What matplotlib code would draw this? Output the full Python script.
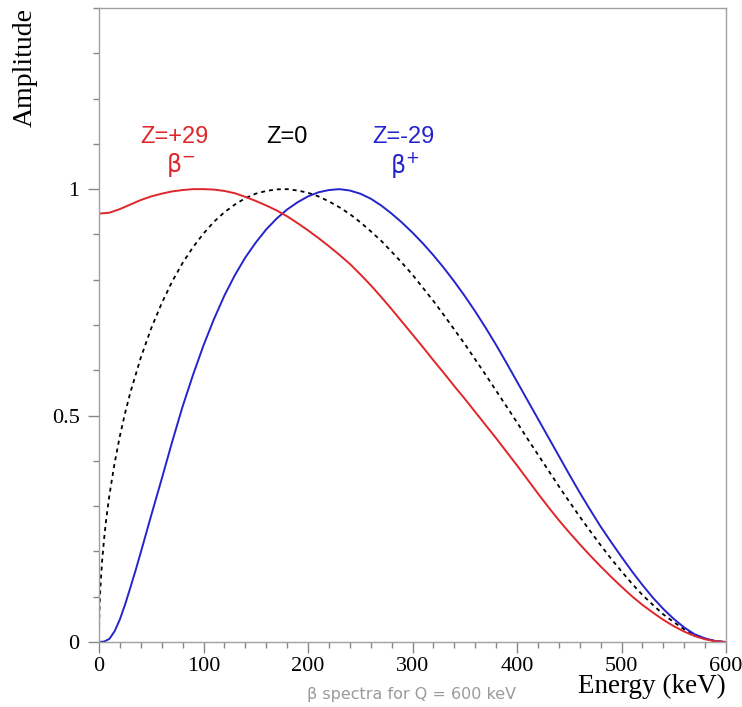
import matplotlib
matplotlib.use("Agg")
import matplotlib.pyplot as plt
from matplotlib.ticker import MultipleLocator, FixedLocator

# Beta spectra, Q = 600 keV, each normalised to its maximum
# Z = +29 (beta-)
red_E = [0, 0, 10, 20, 30, 40, 50, 60, 70, 80, 90, 100, 110, 120, 130, 140,
         150, 160, 170, 180, 190, 200, 210, 220, 230, 240, 250, 260, 270, 280,
         290, 300, 310, 320, 330, 340, 350, 360, 370, 380, 390, 400, 410, 420,
         430, 440, 450, 460, 470, 480, 490, 500, 510, 520, 530, 540, 550, 560,
         570, 580, 590, 600]
red_A = [0.0, 0.946, 0.948, 0.956, 0.966, 0.976, 0.984, 0.990, 0.995, 0.998,
         1.000, 1.000, 0.999, 0.996, 0.991, 0.983, 0.974, 0.964, 0.953, 0.940,
         0.925, 0.909, 0.892, 0.874, 0.855, 0.835, 0.812, 0.788, 0.762, 0.735,
         0.707, 0.679, 0.651, 0.622, 0.594, 0.565, 0.537, 0.508, 0.479, 0.450,
         0.420, 0.390, 0.359, 0.328, 0.298, 0.269, 0.242, 0.216, 0.191, 0.167,
         0.144, 0.122, 0.101, 0.082, 0.065, 0.049, 0.035, 0.023, 0.013, 0.006,
         0.0015, 0.0]

# Z = 0
blk_E = [0, 0.2, 0.5, 1, 2, 3, 5, 7, 10, 15, 20, 25, 30, 40, 50, 60, 70, 80,
         90, 100, 110, 120, 130, 140, 150, 160, 170, 180, 190, 200, 210, 220,
         230, 240, 250, 260, 270, 280, 290, 300, 310, 320, 330, 340, 350, 360,
         370, 380, 390, 400, 410, 420, 430, 440, 450, 460, 470, 480, 490, 500,
         510, 520, 530, 540, 550, 560, 570, 580, 590, 600]
blk_A = [0.0, 0.046, 0.073, 0.104, 0.146, 0.179, 0.231, 0.273, 0.325, 0.396,
         0.455, 0.506, 0.551, 0.628, 0.693, 0.748, 0.796, 0.837, 0.872, 0.902,
         0.928, 0.949, 0.966, 0.980, 0.990, 0.996, 0.9995, 1.000, 0.997, 0.992,
         0.984, 0.973, 0.960, 0.945, 0.927, 0.907, 0.886, 0.862, 0.837, 0.811,
         0.782, 0.753, 0.722, 0.690, 0.658, 0.624, 0.590, 0.555, 0.520, 0.485,
         0.449, 0.414, 0.379, 0.344, 0.310, 0.277, 0.245, 0.214, 0.184, 0.156,
         0.129, 0.104, 0.082, 0.061, 0.044, 0.028, 0.016, 0.007, 0.002, 0.0]

# Z = -29 (beta+)
blu_E = [0, 5, 10, 15, 20, 25, 30, 35, 40, 50, 60, 70, 80, 90, 100, 110, 120,
         130, 140, 150, 160, 170, 180, 190, 200, 210, 220, 230, 240, 250, 260,
         270, 280, 290, 300, 310, 320, 330, 340, 350, 360, 370, 380, 390, 400,
         410, 420, 430, 440, 450, 460, 470, 480, 490, 500, 510, 520, 530, 540,
         550, 560, 570, 580, 590, 600]
blu_A = [0.0, 0.001, 0.007, 0.024, 0.050, 0.083, 0.120, 0.158, 0.198, 0.280,
         0.360, 0.442, 0.520, 0.590, 0.655, 0.713, 0.765, 0.810, 0.849, 0.882,
         0.911, 0.935, 0.955, 0.971, 0.984, 0.993, 0.998, 1.000, 0.997, 0.990,
         0.979, 0.964, 0.946, 0.926, 0.904, 0.880, 0.854, 0.826, 0.796, 0.764,
         0.730, 0.694, 0.656, 0.616, 0.575, 0.534, 0.493, 0.452, 0.411, 0.370,
         0.330, 0.292, 0.255, 0.221, 0.188, 0.156, 0.126, 0.098, 0.073, 0.051,
         0.032, 0.017, 0.008, 0.002, 0.0]

RED = "#e0262a"
BLUE = "#2424cc"
GREY = "#a0a0a0"

fig = plt.figure(figsize=(7.42, 7.07), dpi=100)
ax = fig.add_axes([99/742, 1-642/707, 627/742, 634/707])

ax.plot(blk_E, blk_A, color="black", lw=1.3, ls=(0, (2.2, 2.2)))
ax.plot(blu_E, blu_A, color=BLUE, lw=1.4)
ax.plot(red_E, red_A, color=RED, lw=1.4)

ax.set_xlim(0, 600)
ax.set_ylim(0, 1.4)

ax.xaxis.set_major_locator(MultipleLocator(100))
ax.xaxis.set_minor_locator(MultipleLocator(20))
ax.yaxis.set_major_locator(FixedLocator([0, 0.5, 1]))
ax.yaxis.set_minor_locator(MultipleLocator(0.1))
ax.set_yticklabels(["0", "0.5", "1"])

for s in ax.spines.values():
    s.set_color(GREY)
    s.set_linewidth(1.0)
ax.tick_params(which="major", length=8, width=1, color="#888888",
               labelsize=16)
ax.tick_params(axis="x", which="major", pad=3)
ax.tick_params(axis="y", which="major", pad=6)
ax.tick_params(which="minor", length=4, width=1, color="#888888")
for lab in ax.get_xticklabels() + ax.get_yticklabels():
    lab.set_family("Liberation Serif")

fig.text(25/742, 1-8/707, "Amplitude", rotation=90, ha="center", va="top",
         family="Liberation Serif", fontsize=20)
fig.text(726/742, 1-686/707, "Energy (keV)", ha="right", va="center",
         family="Liberation Serif", fontsize=19.5)
fig.text(412/742, 1-695/707, "β spectra for Q = 600 keV", ha="center",
         va="center", family="DejaVu Sans", fontsize=11.5, color="#9a9a9a")

# curve labels
ax.text(72, 1.115, "Z=+29", color=RED, ha="center", va="center",
        family="Liberation Sans", fontsize=17)
ax.text(78, 1.053, r"$\mathrm{\beta}^{-}$", color=RED, ha="center",
        va="center", fontsize=17)
ax.text(180, 1.115, "Z=0", color="black", ha="center", va="center",
        family="Liberation Sans", fontsize=17)
ax.text(291, 1.115, "Z=-29", color=BLUE, ha="center", va="center",
        family="Liberation Sans", fontsize=17)
ax.text(293, 1.053, r"$\mathrm{\beta}^{+}$", color=BLUE, ha="center",
        va="center", fontsize=17)

fig.savefig("out.png", dpi=100)
